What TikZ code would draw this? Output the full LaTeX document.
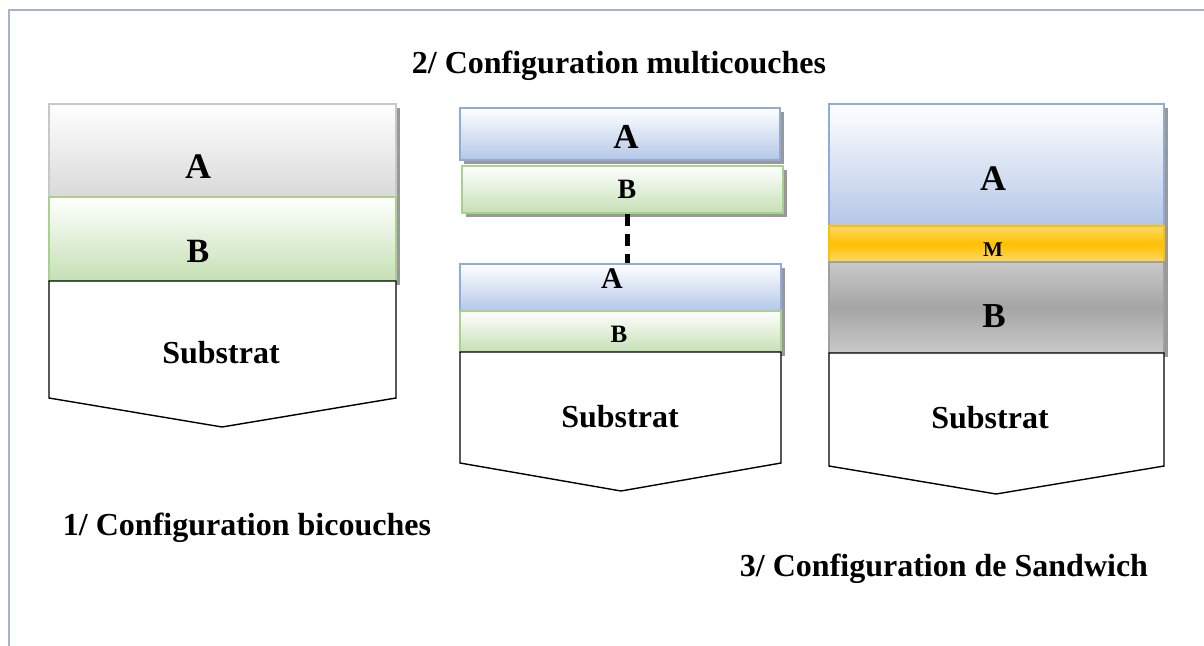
\documentclass[tikz,border=0pt]{standalone}
\usepackage{fontspec}
\setmainfont{Liberation Serif}
\usetikzlibrary{fit,shadows}

\definecolor{frameblue}{HTML}{A3B4CC}
\definecolor{grayedge}{HTML}{C8C8C8}
\definecolor{grayfill}{HTML}{D9D9D9}
\definecolor{greenedge}{HTML}{A9D18E}
\definecolor{greenfill}{HTML}{C5E0B4}
\definecolor{blueedge}{HTML}{8FAADC}
\definecolor{bluefill}{HTML}{B4C7E7}
\definecolor{goldedge}{HTML}{FFC000}
\definecolor{goldfill}{HTML}{FFD966}
\definecolor{steeledge}{HTML}{A0A0A0}
\definecolor{steelfill}{HTML}{A5A5A5}

\tikzset{
  layer/.style={line width=1pt, inner sep=0pt,
    drop shadow={shadow xshift=2pt, shadow yshift=-2pt, fill=black, opacity=0.4}},
  filmA/.style={layer, draw=blueedge, top color=white, bottom color=bluefill},
  filmB/.style={layer, draw=greenedge, top color=white, bottom color=greenfill},
  filmgray/.style={layer, draw=grayedge, top color=white, bottom color=grayfill},
  filmM/.style={layer, draw=goldedge, top color=goldfill, bottom color=goldfill, middle color=goldedge},
  filmsteel/.style={layer, draw=steeledge, top color=steelfill!60, bottom color=steelfill!60, middle color=steelfill},
  substrat/.style={draw=black, line width=0.7pt, fill=white},
  lbl/.style={font=\fontsize{#1}{#1}\selectfont\bfseries, inner sep=0pt},
}

\begin{document}
\begin{tikzpicture}[x=0.5pt, y=-0.5pt]
            \useasboundingbox (0, 0) rectangle (1204, 646);
            \draw[frameblue, line width=0.75pt] (1204, 10) -- (9, 10) -- (9, 646);

            % 1/ bicouches
            \node[filmgray, fit={(49, 104) (396, 197)}] (biA) {};
            \node[filmB, fit={(49, 197) (396, 281)}] (biB) {};
            \draw[substrat] (49, 281) -- (396, 281) -- (396, 398) -- (222, 427) -- (49, 398) -- cycle;
            \node[lbl=18] (biAtxt) at (198, 167) {A};
            \node[lbl=17] (biBtxt) at (198, 251) {B};
            \node[lbl=16] (biS) at (221, 353) {Substrat};
            \node[lbl=16] (t1) at (247, 528) {1/ Configuration bicouches};

            % 2/ multicouches
            \node[filmA, fit={(460, 108) (780, 160)}] (mA1) {};
            \node[filmB, fit={(462, 166) (783, 213)}] (mB1) {};
            \node[filmA, fit={(460, 264) (781, 311)}] (mA2) {};
            \node[filmB, fit={(460, 311) (781, 352)}] (mB2) {};
            \draw[substrat] (460, 352) -- (781, 352) -- (781, 463) -- (621, 491) -- (460, 463) -- cycle;
            \node[lbl=17.5] (mA1txt) at (626, 137) {A};
            \node[lbl=14] (mB1txt) at (627, 189) {B};
            \node[lbl=15] (mA2txt) at (612, 279) {A};
            \node[lbl=12.5] (mB2txt) at (619, 334) {B};
            \draw[line width=2.5pt, dash pattern=on 6pt off 4pt] (mB1txt |- mB1.south) -- (mB1txt |- mA2.north);
            \node[lbl=16] (mS) at (620, 417) {Substrat};
            \node[lbl=16] (t2) at (619, 66) {2/ Configuration multicouches};

            % 3/ sandwich
            \node[filmA, fit={(829, 104) (1164, 226)}] (sA) {};
            \node[filmM, fit={(829, 226) (1164, 262)}] (sM) {};
            \node[filmsteel, fit={(829, 262) (1164, 353)}] (sB) {};
            \draw[substrat] (829, 353) -- (1164, 353) -- (1164, 466) -- (996, 494) -- (829, 466) -- cycle;
            \node[lbl=18] (sAtxt) at (993, 179) {A};
            \node[lbl=10.5] (sMtxt) at (993, 250) {M};
            \node[lbl=17.5] (sBtxt) at (994, 316) {B};
            \node[lbl=16] (sS) at (990, 418) {Substrat};
            \node[lbl=16] (t3) at (944, 569) {3/ Configuration de Sandwich};
\end{tikzpicture}
\end{document}
